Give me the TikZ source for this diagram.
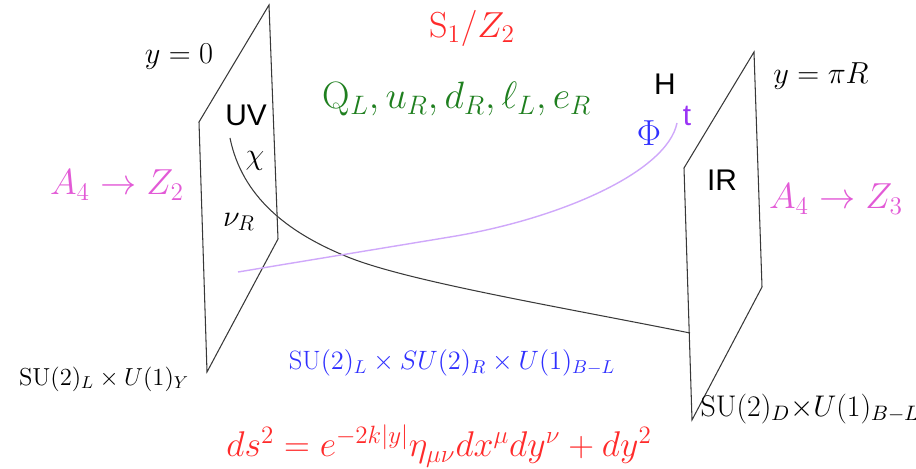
\RequirePackage{fix-cm}
\documentclass[tikz,border=0pt]{standalone}
\usepackage{amsmath, amssymb}
\usepackage{fontspec}
\newfontfamily\sanslbl{Liberation Sans}
\usetikzlibrary{positioning}

\definecolor{braneclr}{HTML}{383838}
\definecolor{fermclr}{HTML}{3A3A3A}
\definecolor{higgsclr}{HTML}{CFA8FA}
\definecolor{flavclr}{HTML}{E25AD6}
\definecolor{orbclr}{HTML}{FF2B2B}
\definecolor{smclr}{HTML}{1F7F1F}
\definecolor{lrclr}{HTML}{3030FF}
\definecolor{topclr}{HTML}{9A33F5}

\tikzset{
  brane/.style={draw=braneclr, line width=0.6pt, line join=miter},
  mlbl/.style={inner sep=0pt, font=\fontsize{17.3}{20}\selectfont},
  biglbl/.style={inner sep=0pt, font=\fontsize{20.6}{24}\selectfont},
  slbl/.style={inner sep=0pt, font=\sanslbl\fontsize{17}{20}\selectfont},
}

\begin{document}
\begin{tikzpicture}[x=0.02cm, y=-0.02cm]
    \useasboundingbox (0,0) rectangle (916,469);

    % UV brane at y=0
    \coordinate (uvtop) at (269,5);
    \coordinate (uvleft) at (199,122);
    \coordinate (uvbot) at (207,372);
    \coordinate (uvright) at (278,239);
    \draw[brane] (uvtop) -- (uvleft) -- (uvbot) -- (uvright) -- cycle;

    % IR brane at y=pi R
    \coordinate (irtop) at (754,52);
    \coordinate (irleft) at (684,168);
    \coordinate (irbot) at (692,420);
    \coordinate (irright) at (762,287);
    \draw[brane] (irtop) -- (irleft) -- (irbot) -- (irright) -- cycle;

    % Bulk profiles
    \coordinate (chistart) at (230,138);
    \coordinate (chimid) at (343,255);
    \coordinate (chiend) at (690,333);
    \draw[fermclr, line width=0.6pt] (chistart) .. controls (242,197) and (288,232) .. (chimid)
        .. controls (400,280) and (550,305) .. (chiend);

    \coordinate (phistart) at (238,272);
    \coordinate (phimid) at (450,237);
    \coordinate (phiend) at (677,123);
    \draw[higgsclr, line width=0.8pt] (phistart) -- (phimid)
        .. controls (560,219) and (667,172) .. (phiend);

    % Brane labels
    \node[mlbl] (uvpos) at (179,57) {$y=0$};
    \node[mlbl] (irpos) at (821,76) {$y=\pi R$};
    \node[slbl] (uv) at (246,115) {UV};
    \node[slbl] (ir) at (722,180) {IR};
    \node[mlbl] (chi) at (255,161) {$\chi$};
    \node[mlbl] (nur) at (239,222) {$\nu_R$};
    \node[slbl] (higgs) at (665,84) {H};
    \node[slbl, text=topclr] (top) at (687,116) {t};
    \node[biglbl, text=lrclr] (phi) at (649,133) {$\Phi$};

    % Flavour breaking
    \node[biglbl, text=flavclr] (flavuv) at (117,185) {$A_4\rightarrow Z_2$};
    \node[biglbl, text=flavclr] (flavir) at (836,199) {$A_4\rightarrow Z_3$};

    % Gauge groups
    \node[mlbl, font=\fontsize{14}{17}\selectfont] (gaugeuv) at (104,379) {$\mathrm{SU}(2)_L\times U(1)_Y$};
    \node[mlbl, font=\fontsize{17}{20}\selectfont] (gaugeir) at (810,409) {$\mathrm{SU}(2)_D{\times}U(1)_{B-L}$};
    \node[mlbl, font=\fontsize{15.1}{18}\selectfont, text=lrclr] (gaugebulk) at (452,363) {$\mathrm{SU}(2)_L\times SU(2)_R\times U(1)_{B-L}$};

    % Bulk content
    \node[biglbl, text=orbclr] (orbifold) at (472,28) {$\mathrm{S}_1/Z_2$};
    \node[biglbl, font=\fontsize{21.7}{25}\selectfont, text=smclr] (fermions) at (457,99) {$\mathrm{Q}_L,u_R,d_R,\ell_L,e_R$};
    \node[biglbl, font=\fontsize{20.35}{24}\selectfont, text=orbclr] (metric) at (439,446) {$ds^2=e^{-2k|y|}\eta_{\mu\nu}dx^\mu dy^\nu+dy^2$};
\end{tikzpicture}
\end{document}
